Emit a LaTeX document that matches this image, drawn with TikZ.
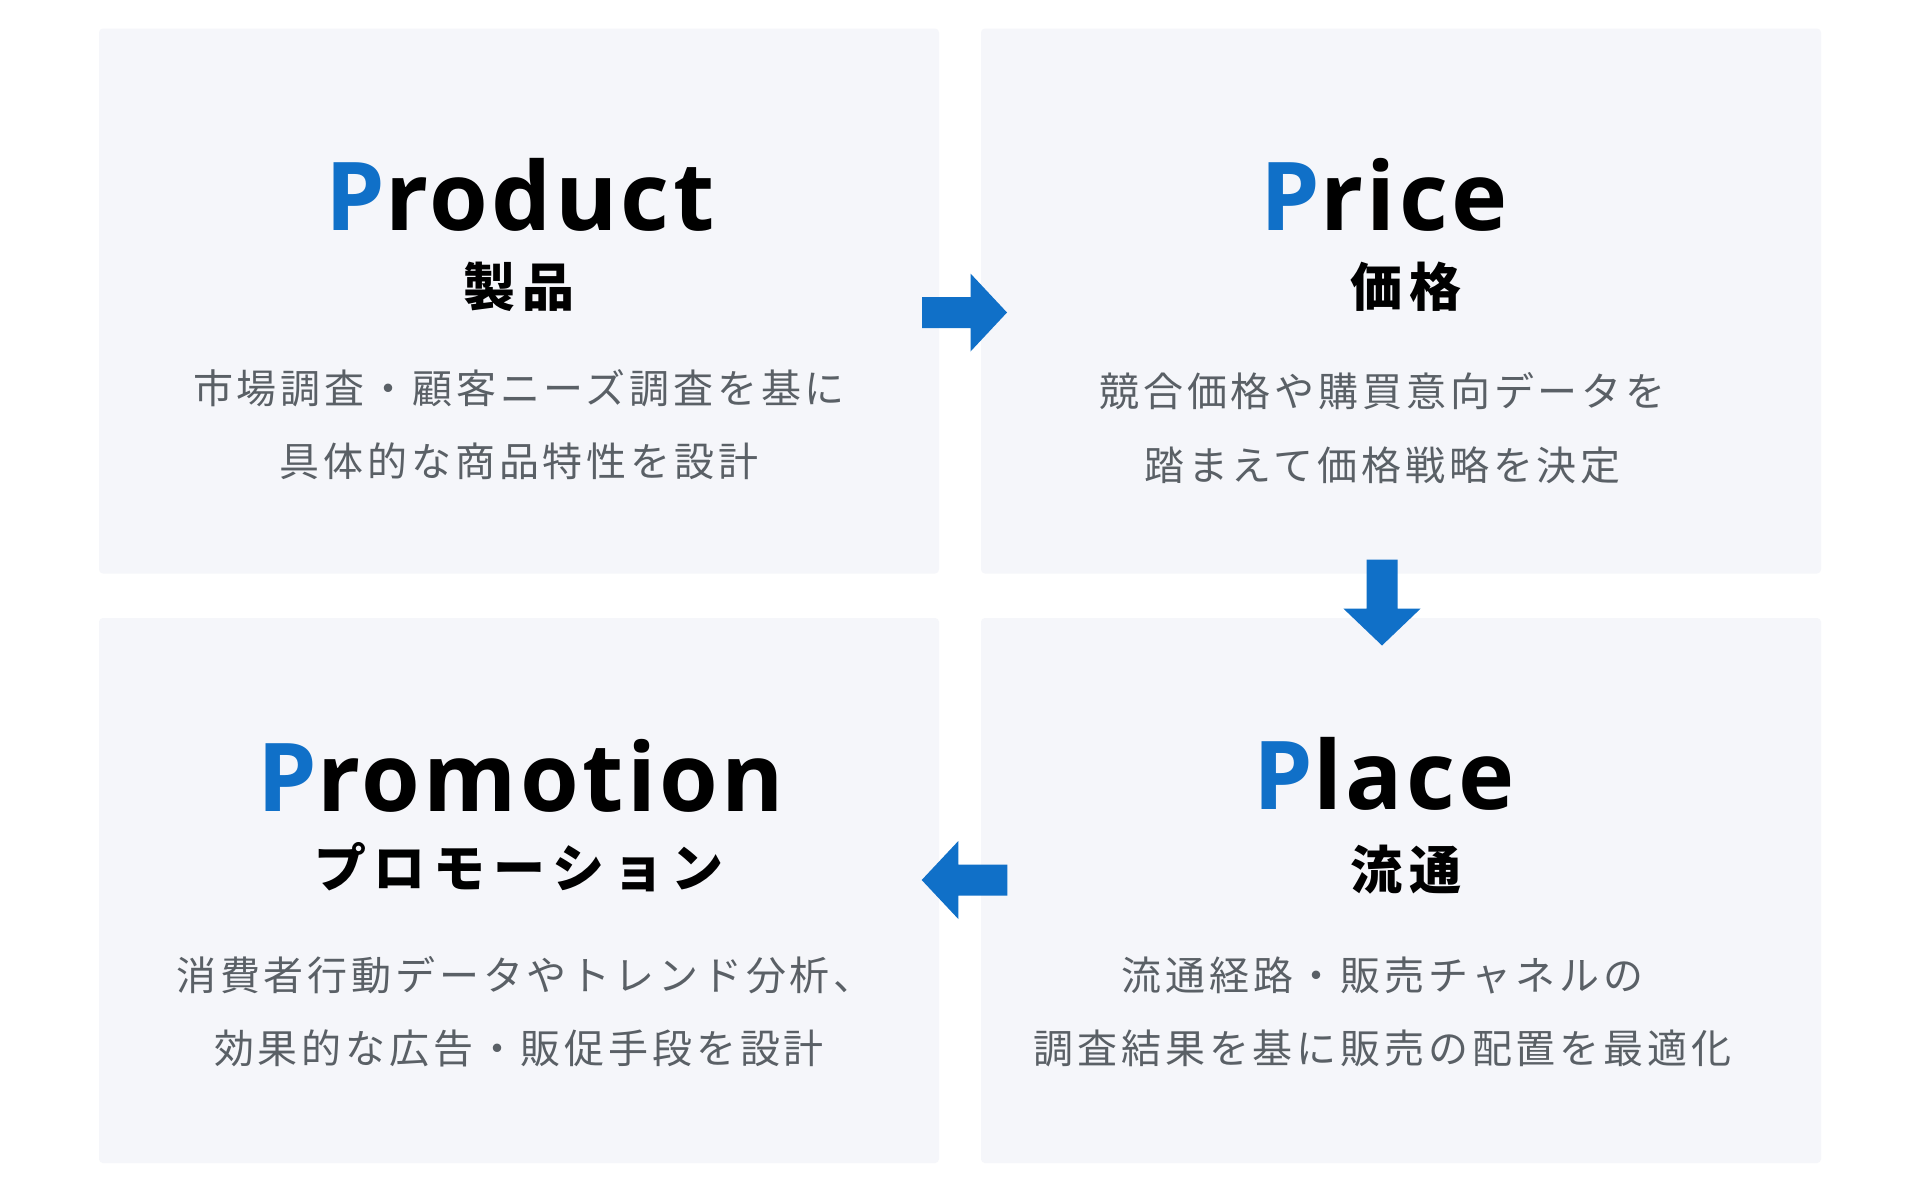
\documentclass[tikz,border=0pt]{standalone}
\usepackage{fontspec}
\setmainfont{Noto Sans}
\newfontfamily\titlefont[LetterSpace=3.5]{Open Sans}
\newfontfamily\subfont[LetterSpace=15]{Noto Sans CJK JP}
\newfontfamily\bodyfont[LetterSpace=9.6]{Noto Sans CJK JP}
\definecolor{boxfill}{HTML}{F5F6FA}
\definecolor{accent}{HTML}{1070C8}
\definecolor{bodygray}{HTML}{5A6066}
\tikzset{
  card/.style={fill=boxfill, rounded corners=4pt, minimum width=840pt, minimum height=545pt, inner sep=0pt},
  ttl/.style={anchor=base, inner sep=0pt, font=\titlefont\bfseries\fontsize{95}{110}\selectfont, text=black},
  subttl/.style={anchor=base, inner sep=0pt, font=\subfont\bfseries\fontsize{52}{60}\selectfont, text=black},
  bodytxt/.style={anchor=base, inner sep=0pt, font=\bodyfont\fontsize{40}{48}\selectfont, text=bodygray},
  blockarrow/.style={fill=accent},
}
\begin{document}
\begin{tikzpicture}[x=1pt,y=-1pt]
\useasboundingbox[fill=white] (0,0) rectangle (1920,1200);
% cards
\node[card] (product) at (519,301) {};
\node[card] (price) at (1401,301) {};
\node[card] (promotion) at (519,890.5) {};
\node[card] (place) at (1401,890.5) {};
% Product
\node[ttl] (t1) at (520,230) {\textcolor{accent}{P}roduct};
\node[subttl] (s1) at (519,306) {製品};
\node[bodytxt] (b1a) at (519,403) {市場調査・顧客ニーズ調査を基に};
\node[bodytxt] (b1b) at (519,476) {具体的な商品特性を設計};
% Price
\node[ttl] (t2) at (1384,230) {\textcolor{accent}{P}rice};
\node[subttl] (s2) at (1406,306) {価格};
\node[bodytxt] (b2a) at (1382.5,406) {競合価格や購買意向データを};
\node[bodytxt] (b2b) at (1382.5,480) {踏まえて価格戦略を決定};
% Promotion
\node[ttl] (t3) at (521,811) {\textcolor{accent}{P}romotion};
\node[subttl] (s3) at (519,887) {プロモーション};
\node[bodytxt] (b3a) at (525,990) {消費者行動データやトレンド分析、};
\node[bodytxt] (b3b) at (519,1063) {効果的な広告・販促手段を設計};
% Place
\node[ttl] (t4) at (1384,809) {\textcolor{accent}{P}lace};
\node[subttl] (s4) at (1406,889) {流通};
\node[bodytxt] (b4a) at (1382.5,990) {流通経路・販売チャネルの};
\node[bodytxt] (b4b) at (1382.5,1063) {調査結果を基に販売の配置を最適化};
% arrows
\fill[blockarrow] (922,297) -- (970.5,297) -- (970.5,273.5) -- (1007,312.5) -- (970.5,351.5) -- (970.5,328) -- (922,328) -- cycle;
\fill[blockarrow] (1366.5,559.5) -- (1397.5,559.5) -- (1397.5,608.5) -- (1420.7,608.5) -- (1382,645.5) -- (1343.3,608.5) -- (1366.5,608.5) -- cycle;
\fill[blockarrow] (1007.3,864.5) -- (958.3,864.5) -- (958.3,841) -- (921.7,880) -- (958.3,919) -- (958.3,895.5) -- (1007.3,895.5) -- cycle;
\end{tikzpicture}
\end{document}
